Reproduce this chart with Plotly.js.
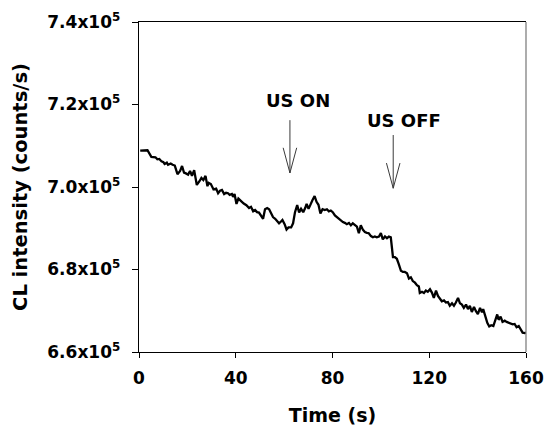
<!DOCTYPE html>
<html>
<head>
<meta charset="utf-8">
<script src="https://cdn.plot.ly/plotly-3.0.1.min.js"></script>
<style>html,body{margin:0;padding:0;background:#fff;}#chart{width:545px;height:427px;}</style>
</head>
<body>
<div id="chart"></div>
<script>
// Time (s)
var timeS = [0.5,3.5,5.1,6.8,7.6,8.4,9.3,10.1,10.6,11.5,12.0,13.1,13.9,14.8,15.9,17.0,17.8,18.6,19.4,20.3,21.1,21.9,22.8,23.9,25.0,25.8,26.6,27.5,28.3,28.8,29.7,30.8,31.9,32.7,33.5,34.3,35.2,36.0,36.8,37.5,38.4,38.9,39.5,40.3,41.1,42.2,43.3,44.4,45.5,46.3,47.2,48.0,48.8,49.6,50.8,51.3,52.1,53.0,53.8,54.6,55.4,56.3,57.1,57.9,58.8,59.3,60.2,61.0,61.8,62.9,63.7,64.5,65.4,66.2,67.0,67.9,68.7,69.3,70.1,70.9,71.7,72.6,73.4,74.2,75.0,75.9,76.8,77.7,78.5,79.3,80.1,81.0,81.8,82.6,83.5,84.3,85.1,85.9,86.8,87.6,88.4,89.2,90.1,90.9,91.7,92.6,93.4,94.2,95.0,95.9,96.7,97.5,98.3,99.2,100.0,100.8,101.7,102.5,103.3,104.1,105.0,105.8,106.6,107.4,108.3,109.1,109.9,110.8,111.6,112.4,113.2,114.1,114.9,115.7,116.1,117.0,117.8,118.6,119.4,120.3,121.1,121.9,122.8,123.6,124.4,125.2,126.1,126.9,127.7,128.5,129.4,130.2,131.0,131.9,132.7,133.5,134.3,135.2,136.0,136.8,137.6,138.5,139.3,140.1,141.0,141.8,142.3,143.2,144.0,144.8,145.6,146.5,147.3,148.1,148.7,149.5,150.3,151.2,152.0,152.8,153.7,154.5,155.3,156.1,157.0,157.8,158.6,159.5,160.0];
// CL intensity (counts/s)
var clIntensity = [708800,708900,707300,707200,706700,706800,706200,706000,705600,705900,705400,705700,705400,705200,703100,703900,705100,703500,703300,703000,703900,702700,704100,700500,701400,702200,701700,702700,700200,701000,700700,699400,699600,698500,699100,699300,698300,698600,698500,698100,698300,697600,698300,695900,697200,696500,696000,695600,694900,695200,694100,694400,693900,693800,692700,692300,694600,694900,694600,693600,692700,692300,691800,691200,691700,692000,691000,689700,690200,690200,691200,693900,695600,693800,694700,693900,694900,695900,694700,695900,696800,697800,696400,695700,693600,694600,694400,694600,694100,694300,693900,693100,692700,692300,692000,691500,691300,691000,691300,690700,691200,690900,690400,688800,690700,689600,689100,688900,688800,688100,687800,688000,687800,688000,688800,687300,688000,687600,688000,687800,683000,683000,682600,681300,679700,679400,679400,679100,677800,678100,677200,676800,676200,675900,674300,674600,674300,674900,674600,675200,674400,673100,674900,673600,672800,672300,672500,672000,672100,671200,671800,671200,672000,673100,671800,671500,670700,671500,670400,671200,669700,670900,669900,669200,670700,669600,670400,668600,667100,666200,666500,666300,667600,669100,667800,668600,667300,667600,667300,667100,666800,666700,666800,666000,666300,665400,664700,664600,664700];

var xTickVals = [0,40,80,120,160];
var yTickVals = [660000,680000,700000,720000,740000];
var yTickText = ['6.6x10<sup>5</sup>','6.8x10<sup>5</sup>','7.0x10<sup>5</sup>','7.2x10<sup>5</sup>','7.4x10<sup>5</sup>'];

// Annotations: labels and arrows
var noteText = ['US ON','US OFF'];
var noteX = [65.9,109.5];
var noteY = [721050,716200];
var arrowX = [62.4,105.1];
var arrowTail = [716200,712600];
var arrowArm = [709500,705800];
var arrowTip = [703400,699700];

var armDx = 2.8;
var fontFam = 'DejaVu Sans, Arial, sans-serif';

var shapes = [];
for (var i = 0; i < arrowX.length; i++) {
  var x = arrowX[i];
  shapes.push({type:'path', xref:'x', yref:'y',
    path:'M'+x+','+arrowTail[i]+' L'+x+','+arrowTip[i]+' M'+(x-armDx)+','+arrowArm[i]+' L'+x+','+arrowTip[i]+' L'+(x+armDx)+','+arrowArm[i],
    line:{color:'#3a3a3a', width:1}});
}
shapes.push({type:'line', xref:'paper', yref:'paper', x0:1, x1:1, y0:0, y1:1, line:{color:'#808080', width:1.3}});

var annotations = [];
for (var j = 0; j < noteText.length; j++) {
  annotations.push({x:noteX[j], y:noteY[j], xref:'x', yref:'y', text:noteText[j], showarrow:false,
    font:{family:fontFam, size:18, color:'#000', weight:700}});
}

var trace = {x: timeS, y: clIntensity, type:'scatter', mode:'lines',
  line:{color:'#000', width:2.3}, hoverinfo:'skip'};

var layout = {
  width:545, height:427,
  margin:{l:139, r:19, t:22, b:75},
  paper_bgcolor:'#fff', plot_bgcolor:'#fff',
  showlegend:false,
  xaxis:{range:[0,160], tickvals:xTickVals, ticks:'outside', ticklen:5, tickcolor:'#000',
    showline:true, linecolor:'#000', linewidth:1.3, mirror:true, showgrid:false, zeroline:false,
    tickfont:{family:fontFam, size:17, color:'#000', weight:700}, ticklabelstandoff:5,
    title:{text:'Time (s)', font:{family:fontFam, size:19, color:'#000', weight:700}, standoff:22}},
  yaxis:{range:[660000,740000], tickvals:yTickVals, ticktext:yTickText, ticks:'outside', ticklen:6, tickcolor:'#000',
    showline:true, linecolor:'#000', linewidth:1.3, showgrid:false, zeroline:false,
    tickfont:{family:fontFam, size:17, color:'#000', weight:700}, ticklabelstandoff:8,
    title:{text:'CL intensity (counts/s)', font:{family:fontFam, size:19.5, color:'#000', weight:700}, standoff:14}},
  shapes: shapes,
  annotations: annotations
};

Plotly.newPlot('chart', [trace], layout, {staticPlot:true, displayModeBar:false});
</script>
</body>
</html>
